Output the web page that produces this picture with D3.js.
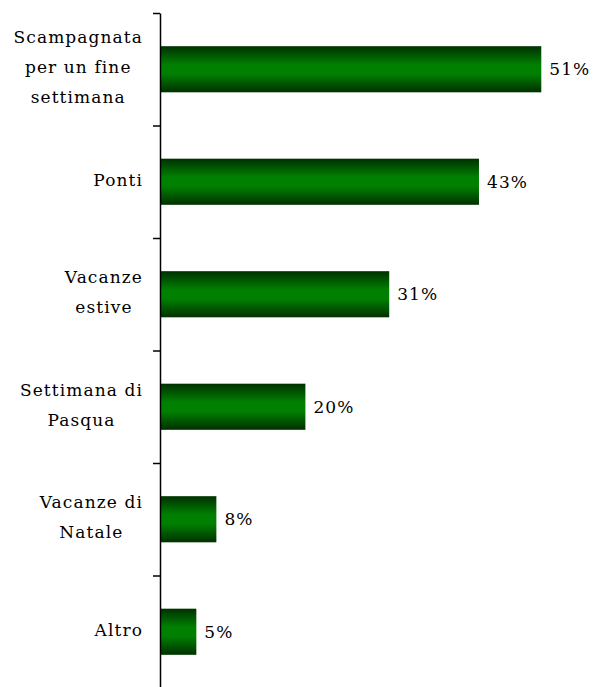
<!DOCTYPE html>
<html>
<head>
<meta charset="utf-8">
<script src="https://cdn.jsdelivr.net/npm/d3@7"></script>
<style>
  body { margin: 0; background: #fff; }
  text { font-family: "DejaVu Serif", serif; font-size: 17px; fill: #000; letter-spacing: 1.1px; }
</style>
</head>
<body>
<script>
// categories, top to bottom
const categories = [
  ["Scampagnata", "per un fine", "settimana"],
  ["Ponti"],
  ["Vacanze", "estive"],
  ["Settimana di", "Pasqua"],
  ["Vacanze di", "Natale"],
  ["Altro"]
];
const values = [51.4, 43.0, 30.9, 19.6, 7.6, 4.9];
const valueLabels = ["51%", "43%", "31%", "20%", "8%", "5%"];

const width = 595;
const height = 687;
const axisX = 160;
const plotTop = 13, plotBottom = 688;

const svg = d3.select("body").append("svg").attr("width", width).attr("height", height);

const grad = svg.append("defs").append("linearGradient")
  .attr("id", "barGrad").attr("x1", 0).attr("y1", 0).attr("x2", 0).attr("y2", 1);
grad.append("stop").attr("offset", "0%").attr("stop-color", "#003000");
grad.append("stop").attr("offset", "40%").attr("stop-color", "#008000");
grad.append("stop").attr("offset", "60%").attr("stop-color", "#008000");
grad.append("stop").attr("offset", "100%").attr("stop-color", "#003000");

const idx = d3.range(categories.length);

const xScale = d3.scaleLinear().domain([0, 55]).range([axisX, axisX + 55 * 7.418]);
const yScale = d3.scaleBand().domain(idx).range([plotTop, plotBottom]).paddingInner(0.59).paddingOuter(0.295);

// bars
svg.selectAll("rect.bar")
  .data(idx)
  .enter()
  .append("rect")
  .attr("class", "bar")
  .attr("x", xScale(0))
  .attr("y", (i) => yScale(i))
  .attr("width", (i) => xScale(values[i]) - xScale(0))
  .attr("height", yScale.bandwidth())
  .attr("fill", "url(#barGrad)");

// value labels
svg.selectAll("text.val")
  .data(idx)
  .enter()
  .append("text")
  .attr("class", "val")
  .attr("x", (i) => xScale(values[i]) + 8)
  .attr("y", (i) => yScale(i) + yScale.bandwidth() / 2)
  .attr("dy", "0.35em")
  .text((i) => valueLabels[i]);

// axis with ticks on category boundaries
const tickScale = d3.scaleLinear().domain([0, categories.length]).range([plotTop, plotBottom]);
const yAxis = d3.axisLeft(tickScale).tickValues(d3.range(categories.length + 1)).tickSize(7).tickSizeOuter(0).tickFormat("");
const gAxis = svg.append("g").attr("transform", "translate(" + axisX + ",0)").call(yAxis);
gAxis.selectAll("path, line").attr("stroke", "#000").attr("stroke-width", 1.5);

// category labels: lines centered in block, block right-aligned
const lineH = 30;
idx.forEach((i) => {
  const lines = categories[i];
  const cy = yScale(i) + yScale.bandwidth() / 2 - 2;
  const g = svg.append("g");
  const t = g.append("text").attr("text-anchor", "middle");
  lines.forEach((ln, k) => {
    t.append("tspan")
      .attr("x", 0)
      .attr("y", cy + (k - (lines.length - 1) / 2) * lineH)
      .attr("dy", "0.35em")
      .text(ln);
  });
  const bb = t.node().getBBox();
  g.attr("transform", "translate(" + (143 - (bb.x + bb.width)) + ",0)");
});
</script>
</body>
</html>
